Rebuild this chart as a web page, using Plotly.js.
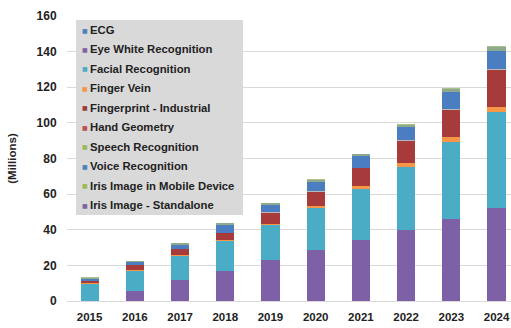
<!DOCTYPE html>
<html>
<head>
<meta charset="utf-8">
<script src="https://cdn.plot.ly/plotly-3.0.1.min.js"></script>
<style>html,body{margin:0;padding:0;background:#fff;}#chart{width:511px;height:328px;}</style>
</head>
<body>
<div id="chart"></div>
<script>
// ---- data (millions) ----
const years = ['2015','2016','2017','2018','2019','2020','2021','2022','2023','2024'];
const irisStandalone = [0, 5.8, 11.6, 16.9, 22.9, 28.5, 34.3, 40.0, 45.8, 52.0];
const facial         = [9.7, 11.3, 13.7, 16.7, 19.7, 23.9, 28.4, 35.3, 43.6, 54.3];
const fingerVein     = [0.4, 0.5, 0.8, 0.8, 0.9, 0.9, 1.9, 2.4, 2.4, 2.8];
const fingerprint    = [1.0, 2.7, 3.2, 3.7, 6.1, 8.1, 9.8, 12.2, 15.6, 20.6];
const handGeometry   = [0.1, 0.1, 0.1, 0.2, 0.2, 0.2, 0.2, 0.3, 0.3, 0.3];
const voice          = [1.0, 1.5, 2.1, 4.3, 3.9, 5.2, 6.9, 7.6, 9.5, 10.6];
const speech         = [0.8, 0.6, 0.9, 1.0, 1.1, 1.1, 1.0, 1.0, 1.7, 1.9];
const irisMobile     = [0.3, 0.2, 0.3, 0.3, 0.4, 0.4, 0.3, 0.4, 0.5, 0.6];
const eyeWhite       = [0.1, 0.0, 0.0, 0.0, 0.0, 0.0, 0.0, 0.0, 0.0, 0.0];
const ecg            = [0.1, 0.0, 0.0, 0.0, 0.0, 0.0, 0.0, 0.0, 0.0, 0.0];

// legend order (top to bottom, as shown)
const legendNames = ['ECG','Eye White Recognition','Facial Recognition','Finger Vein',
  'Fingerprint - Industrial','Hand Geometry','Speech Recognition','Voice Recognition',
  'Iris Image in Mobile Device','Iris Image - Standalone'];
const legendColors = ['#4F81BD','#8064A2','#4BACC6','#F79646','#9B3B3B','#C0504D',
  '#9BBB59','#4F81BD','#9BBB59','#8064A2'];

// stacking order bottom -> top
const stack = [
  {name:'Iris Image - Standalone', y: irisStandalone, color:'#7E60A6'},
  {name:'Facial Recognition', y: facial, color:'#4BACC6'},
  {name:'Finger Vein', y: fingerVein, color:'#F79646'},
  {name:'Fingerprint - Industrial', y: fingerprint, color:'#A73A3A'},
  {name:'Hand Geometry', y: handGeometry, color:'#B9B9B9'},
  {name:'Voice Recognition', y: voice, color:'#4A7EC0'},
  {name:'Speech Recognition', y: speech, color:'#8FA98D'},
  {name:'Iris Image in Mobile Device', y: irisMobile, color:'#A9C38A'},
  {name:'Eye White Recognition', y: eyeWhite, color:'#8064A2'},
  {name:'ECG', y: ecg, color:'#4F81BD'}
];

const traces = stack.map(s => ({
  type:'bar', x: years, y: s.y, name: s.name,
  marker:{color: s.color, line:{width:0}}, showlegend:false
}));

// geometry helpers for the custom legend box
const W = 511, H = 328, L = 67, R = 0, T = 16, B = 27;
const px2x = p => (p - L) / (W - L - R);
const px2y = p => (H - B - p) / (H - T - B);

const shapes = [{
  type:'rect', xref:'paper', yref:'paper',
  x0: px2x(76), x1: px2x(243), y0: px2y(215), y1: px2y(20),
  fillcolor:'#D9D9D9', line:{width:0}, layer:'above'
}];
const annotations = [];
legendNames.forEach((n, i) => {
  const yy = px2y(30 + i * 19.45);
  annotations.push({xref:'paper', yref:'paper', x: px2x(84.5), y: yy, xanchor:'center', yanchor:'middle',
    text:'■', showarrow:false, font:{size:6, color: legendColors[i], family:'DejaVu Sans'}});
  annotations.push({xref:'paper', yref:'paper', x: px2x(87.5), y: yy, xanchor:'left', yanchor:'middle',
    text: n, showarrow:false, font:{size:11.3, color:'#222222', family:'Liberation Sans, Arial', weight:'bold'}});
});

const layout = {
  width: W, height: H,
  margin:{l:L, r:R, t:T, b:B, pad:0},
  barmode:'stack', bargap:0.6,
  paper_bgcolor:'#ffffff', plot_bgcolor:'#ffffff',
  font:{family:'Liberation Sans, Arial', color:'#262626'},
  xaxis:{type:'category', range:[-0.5, 9.32], showgrid:false, zeroline:false,
    showline:false, ticks:'outside', ticklen:5, tickcolor:'rgba(0,0,0,0)',
    tickfont:{size:11.5, weight:'bold', family:'Liberation Sans, Arial', color:'#222222'}},
  yaxis:{range:[0,160], dtick:20, showgrid:true, gridcolor:'#D9D9D9', gridwidth:1,
    zeroline:true, zerolinecolor:'#D9D9D9', zerolinewidth:1, showline:false,
    ticks:'outside', ticklen:7, tickcolor:'rgba(0,0,0,0)',
    tickfont:{size:12, weight:'bold', family:'Liberation Sans, Arial', color:'#222222'},
    title:{text:'(Millions)', standoff:17, font:{size:11.5, weight:'bold', family:'Liberation Sans, Arial', color:'#222222'}}},
  shapes: shapes,
  annotations: annotations,
  showlegend:false
};

Plotly.newPlot('chart', traces, layout, {displayModeBar:false, staticPlot:true});
</script>
</body>
</html>
